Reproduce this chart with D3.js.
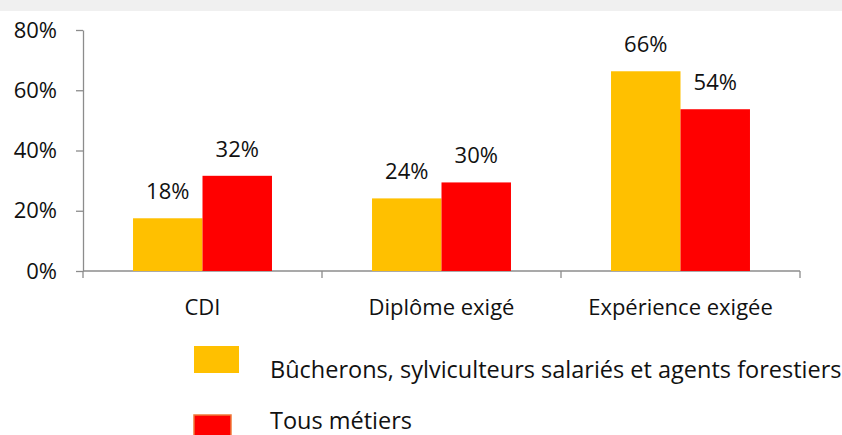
<!DOCTYPE html>
<html>
<head>
<meta charset="utf-8">
<script src="https://cdn.jsdelivr.net/npm/d3@7"></script>
<style>
  body { margin: 0; background: #fff; }
  svg { display: block; }
  .tick text { font-family: "Open Sans", sans-serif; }
</style>
</head>
<body>
<div id="chart-area"></div>
<script>
// Data
var categories = ["CDI", "Diplôme exigé", "Expérience exigée"];
var seriesNames = ["Bûcherons, sylviculteurs salariés et agents forestiers", "Tous métiers"];
var bucherons = [17.5, 24.1, 66.3];
var tousMetiers = [31.6, 29.4, 53.7];
var bucheronsLabels = ["18%", "24%", "66%"];
var tousLabels = ["32%", "30%", "54%"];
var yTicks = [0, 20, 40, 60, 80];
var colors = ["#ffc000", "#ff0000"];

var W = 842, H = 435;
var margin = {top: 30, right: 42, bottom: 164, left: 83},
    width = W - margin.left - margin.right,
    height = H - margin.top - margin.bottom;

var svg = d3.select("#chart-area").append("svg")
    .attr("width", W)
    .attr("height", H);

// top grey band
svg.append("rect")
    .attr("x", 0).attr("y", 0)
    .attr("width", W).attr("height", 11)
    .attr("fill", "#f0f0f0");

var g = svg.append("g")
    .attr("transform", "translate(" + margin.left + "," + margin.top + ")");

// Scales
var x0 = d3.scaleBand().domain(categories).range([0, width]).paddingInner(0).paddingOuter(0);
var x1 = d3.scaleBand().domain([0, 1]).range([0, x0.bandwidth()]).paddingInner(0).paddingOuter(0.72);
var y = d3.scaleLinear().domain([0, 80]).range([height, 0]);

// Y axis
var yAxis = g.append("g")
    .call(d3.axisLeft(y).tickValues(yTicks).tickFormat((d) => d + "%").tickSize(7).tickSizeOuter(0));
yAxis.select(".domain").attr("stroke", "#8c8c8c").attr("stroke-width", 1.3);
yAxis.selectAll(".tick line").attr("stroke", "#8c8c8c").attr("stroke-width", 1.3);
yAxis.selectAll(".tick text")
    .attr("x", -26)
    .attr("font-size", 22)
    .attr("fill", "#111");

// X axis
var xAxis = g.append("g")
    .attr("transform", "translate(0," + height + ")");
xAxis.append("line")
    .attr("x1", 0).attr("x2", width)
    .attr("stroke", "#8c8c8c").attr("stroke-width", 1.3);
var boundaries = [0].concat(categories.map((c) => x0(c) + x0.bandwidth()));
xAxis.selectAll(".bt")
    .data(boundaries)
    .enter().append("line")
    .attr("x1", (d) => d).attr("x2", (d) => d)
    .attr("y1", 0).attr("y2", 7)
    .attr("stroke", "#8c8c8c").attr("stroke-width", 1.3);
xAxis.selectAll(".cat")
    .data(categories)
    .enter().append("text")
    .attr("x", (d) => x0(d) + x0.bandwidth() / 2)
    .attr("y", 44)
    .attr("text-anchor", "middle")
    .attr("font-family", "'Open Sans', sans-serif")
    .attr("font-size", 22)
    .attr("fill", "#111")
    .text((d) => d);

// Bars
var rows = categories.map((c, i) => ({
    cat: c,
    vals: [
        {s: 0, v: bucherons[i], label: bucheronsLabels[i]},
        {s: 1, v: tousMetiers[i], label: tousLabels[i]}
    ]
}));

var groups = g.selectAll(".grp")
    .data(rows)
    .enter().append("g")
    .attr("transform", (d) => "translate(" + x0(d.cat) + ",0)");

groups.selectAll("rect")
    .data((d) => d.vals)
    .enter().append("rect")
    .attr("x", (d) => x1(d.s))
    .attr("y", (d) => y(d.v))
    .attr("width", x1.bandwidth())
    .attr("height", (d) => height - y(d.v))
    .attr("fill", (d) => colors[d.s]);

groups.selectAll(".lbl")
    .data((d) => d.vals)
    .enter().append("text")
    .attr("x", (d) => x1(d.s) + x1.bandwidth() / 2)
    .attr("y", (d) => y(d.v) - 19)
    .attr("text-anchor", "middle")
    .attr("font-family", "'Open Sans', sans-serif")
    .attr("font-size", 22)
    .attr("fill", "#111")
    .text((d) => d.label);

// Legend
var legend = svg.append("g");
var legendY = [346, 415];
var legendBase = [378, 429];
seriesNames.forEach((name, i) => {
    legend.append("rect")
        .attr("x", 194).attr("y", legendY[i])
        .attr("width", i === 0 ? 45 : 37).attr("height", 27)
        .attr("fill", colors[i])
        .attr("stroke", i === 0 ? "none" : "#f0793a")
        .attr("stroke-width", 1.5);
    legend.append("text")
        .attr("x", 270)
        .attr("y", legendBase[i])
        .attr("font-family", "'Open Sans', sans-serif")
        .attr("font-size", 23.5)
        .attr("fill", "#111")
        .text(name);
});
</script>
</body>
</html>
